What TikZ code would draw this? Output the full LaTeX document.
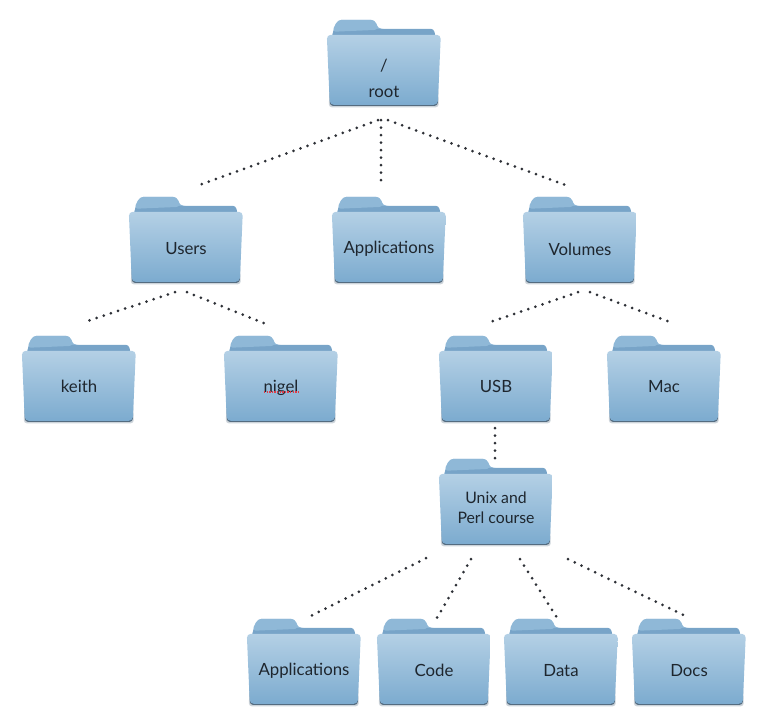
\documentclass[tikz,border=0pt]{standalone}
\usepackage{fontspec}
\setmainfont{Lato}
\usetikzlibrary{positioning}
\definecolor{figInk}{RGB}{30,38,46}
\definecolor{figDot}{RGB}{45,48,54}
\definecolor{figTab}{RGB}{143,184,215}
\definecolor{figBack}{RGB}{120,164,200}
\definecolor{figTop}{RGB}{180,208,229}
\definecolor{figBottom}{RGB}{124,171,207}
\definecolor{figEdge}{RGB}{84,108,128}
\definecolor{figShade}{RGB}{205,212,218}
\definecolor{figRed}{RGB}{224,60,72}
\pgfdeclarelayer{folders}
\pgfsetlayers{folders,main}
\tikzset{
  folder/.style={minimum width=114pt,minimum height=70pt,inner sep=0pt,align=center,text=figInk,font=\fontsize{16.8}{20}\selectfont},
  link/.style={line width=3pt,line cap=round,dash pattern=on 0pt off 7.5pt,draw=figDot},
  tabshape/.style={fill=figTab,rounded corners=4pt},
  backshape/.style={fill=figBack,rounded corners=3pt},
  bodyshape/.style={top color=figTop,bottom color=figBottom,rounded corners=4pt}
}
% body node first, the folder outline goes behind it
\newcommand{\folderat}[4][]{
  \node[folder,#1] (#2) at (#3) {#4};
  \begin{pgfonlayer}{folders}
    \begin{scope}[shift={(#2.north west)},yshift=2pt]
      \fill[figShade,rounded corners=3pt] (3,40) -- (2,72.5) -- (112,72.5) -- (111,40) -- cycle;
      \fill[figEdge,rounded corners=3pt] (3,40) -- (3,71) -- (111,71) -- (111,40) -- cycle;
      \fill[tabshape] (4,8) -- (7,-6) -- (11,-15) -- (48,-15) -- (51,-6) -- (60,-6) -- (60,8) -- cycle;
      \fill[backshape] (4,8) -- (7,-6) -- (107,-6) -- (110,8) -- cycle;
      \fill[tabshape] (5,-3) -- (11,-15) -- (48,-15) -- (52,-5) -- cycle;
      \shade[bodyshape] (0,0) -- (114,0) -- (111,70) -- (3,70) -- cycle;
    \end{scope}
  \end{pgfonlayer}
}

\begin{document}
\begin{tikzpicture}[x=1pt,y=-1pt]
\useasboundingbox (0,0) rectangle (778,719);

\folderat{root}{384,72}{\mbox{}\\[-2pt]\smash{\raisebox{-4pt}{/}}\\[6pt]\smash{\raisebox{-4pt}{root}}}

\folderat{users}{186,249}{Users}
\folderat{apps}{389,249}{Applications}
\folderat{volumes}{580,249}{Volumes}

\folderat{keith}{79,388}{\raisebox{3pt}{keith}}
\folderat{nigel}{281,388}{\raisebox{3pt}{nigel}}
\folderat{usb}{496,388}{\raisebox{3pt}{USB}}
\folderat{mac}{664,388}{\raisebox{3pt}{Mac}}

\folderat[font=\fontsize{15.8}{20}\selectfont]{course}{496,511}{Unix and\\Perl course\\[-14pt]\mbox{}}

\folderat{courseapps}{304,671}{\raisebox{2pt}{Applications}}
\folderat{code}{434,671}{\raisebox{2pt}{Code}}
\folderat{data}{561,671}{\raisebox{2pt}{Data}}
\folderat{docs}{689,671}{\raisebox{2pt}{Docs}}

\draw[link] ([xshift=-6pt,yshift=-13pt]root.south) -- ([xshift=14pt,yshift=29pt]users.north);
\draw[link] ([xshift=-3pt,yshift=-13pt]root.south) -- ([xshift=-8pt,yshift=29pt]apps.north);
\draw[link] ([xshift=4pt,yshift=-13pt]root.south) -- ([xshift=-15pt,yshift=29pt]volumes.north);

\draw[link] ([xshift=-11pt,yshift=-8pt]users.south) -- ([xshift=6pt,yshift=31pt]keith.north);
\draw[link] ([xshift=1pt,yshift=-8pt]users.south) -- ([xshift=-13pt,yshift=28pt]nigel.north);

\draw[link] ([xshift=-2pt,yshift=-8pt]volumes.south) -- ([xshift=-8pt,yshift=30pt]usb.north);
\draw[link] ([xshift=10pt,yshift=-8pt]volumes.south) -- ([xshift=8pt,yshift=30pt]mac.north);

\draw[link] ([xshift=-1pt,yshift=-5pt]usb.south) -- ([xshift=-1pt,yshift=14pt]course.north);

\draw[link] ([xshift=-70pt,yshift=-12pt]course.south) -- ([xshift=3pt,yshift=18pt]courseapps.north);
\draw[link] ([xshift=-25pt,yshift=-13pt]course.south) -- ([xshift=3pt,yshift=18pt]code.north);
\draw[link] ([xshift=24pt,yshift=-13pt]course.south) -- ([xshift=-4pt,yshift=18pt]data.north);
\draw[link] ([xshift=72pt,yshift=-13pt]course.south) -- ([xshift=-6pt,yshift=21pt]docs.north);

\draw[figRed,line width=1.3pt,dash pattern=on 1.3pt off 1.3pt] ([xshift=-17pt,yshift=-4pt]nigel.center) -- ([xshift=17pt,yshift=-4pt]nigel.center);

\end{tikzpicture}
\end{document}
